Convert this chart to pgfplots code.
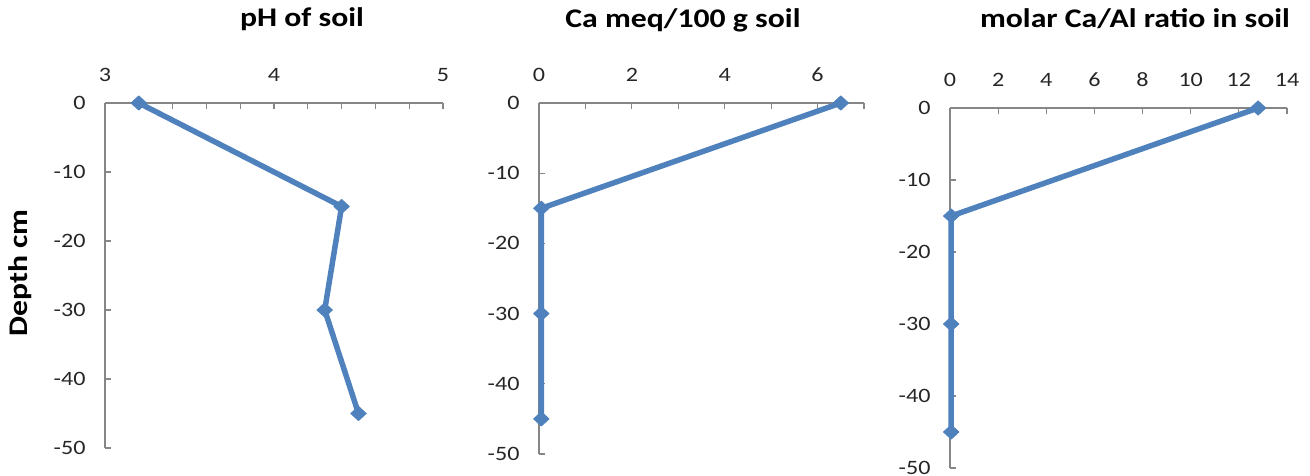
\documentclass[border=0pt]{standalone}
\usepackage{pgfplots}
\pgfplotsset{compat=1.18}
\usepackage{fontspec}
\setmainfont[FakeStretch=1.18]{Carlito}
\definecolor{xlblue}{HTML}{4F81BD}
\definecolor{axgray}{HTML}{868686}

\pgfplotsset{
  depthplot/.style={
    scale only axis,
    axis x line=top, axis y line=left,
    axis line style={-, axgray, line width=1.2bp},
    every tick/.style={axgray, line width=1.2bp},
    tick align=inside,
    major tick length=6bp, minor tick length=6bp,
    ymin=-50, ymax=0, ytick={-50,-40,...,0},
    clip=false,
    tick label style={font=\fontsize{20.5}{24}\selectfont, text=black!85},
    /pgf/number format/assume math mode=true,
    xticklabel style={yshift=18bp},
    yticklabel style={xshift=-16bp},
    title style={font=\bfseries\fontsize{27}{30}\selectfont, anchor=base},
  },
  depthline/.style={xlblue, line width=5.5bp, line join=round,
    mark=diamond*, mark size=7bp,
    mark options={xscale=1.45, solid, fill=xlblue, line width=1bp}},
}

\begin{document}
\begin{tikzpicture}
\useasboundingbox (0,0) rectangle (1310bp,-476bp);

% pH
\begin{axis}[depthplot, at={(105bp,-103bp)}, anchor=north west,
  width=338bp, height=345bp,
  xmin=3, xmax=5, xtick={3,4,5},
  minor xtick={3.2,3.4,3.6,3.8,4.2,4.4,4.6,4.8},
  title={pH of soil}, title style={at={(0.583,1.203)}},
  ylabel={Depth cm},
  ylabel style={font=\bfseries\fontsize{27}{30}\selectfont, at={(-0.2515,0.507)}, anchor=center}]
\addplot[depthline] coordinates {(3.2,0) (4.4,-15) (4.3,-30) (4.5,-45)};
\end{axis}

% Ca
\begin{axis}[depthplot, at={(539bp,-103bp)}, anchor=north west,
  width=325bp, height=351bp,
  xmin=0, xmax=7, xtick={0,2,4,6}, minor xtick={1,3,5,7},
  title={Ca meq/100 g soil}, title style={at={(0.443,1.199)}}]
\addplot[depthline] coordinates {(6.5,0) (0.05,-15) (0.05,-30) (0.05,-45)};
\end{axis}

% Ca/Al
\begin{axis}[depthplot, at={(950bp,-108bp)}, anchor=north west,
  width=337bp, height=360bp,
  xmin=0, xmax=14, xtick={0,2,...,14},
  title={molar Ca/Al ratio in soil}, title style={at={(0.549,1.208)}}]
\addplot[depthline] coordinates {(12.8,0) (0.05,-15) (0.05,-30) (0.05,-45)};
\end{axis}
\end{tikzpicture}
\end{document}
